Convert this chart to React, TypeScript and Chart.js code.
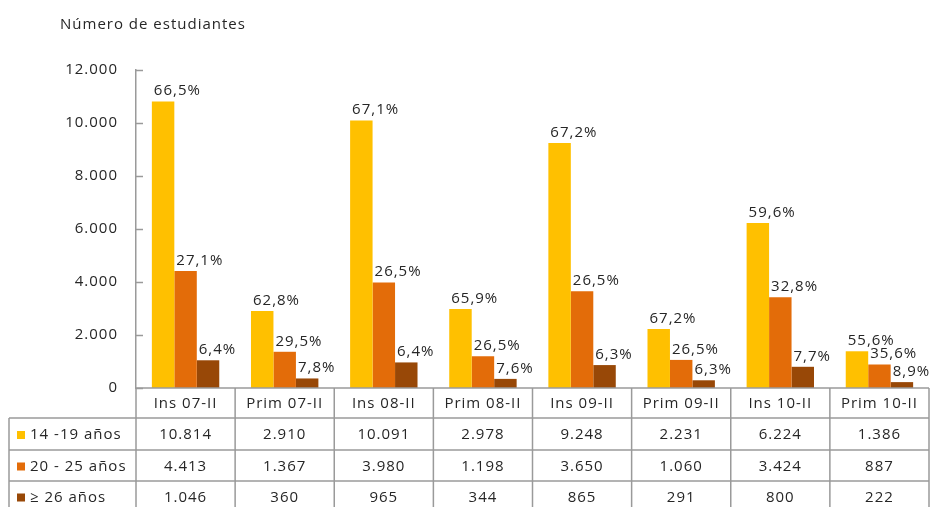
import React, { useEffect, useRef } from 'react';
import { Chart, registerables } from 'chart.js';

Chart.register(...registerables);

const categories = ['Ins 07-II', 'Prim 07-II', 'Ins 08-II', 'Prim 08-II', 'Ins 09-II', 'Prim 09-II', 'Ins 10-II', 'Prim 10-II'];
const seriesNames = ['14 -19 años', '20 - 25 años', '≥ 26 años'];
const age14to19 = [10814, 2910, 10091, 2978, 9248, 2231, 6224, 1386];
const age20to25 = [4413, 1367, 3980, 1198, 3650, 1060, 3424, 887];
const age26plus = [1046, 360, 965, 344, 865, 291, 800, 222];
const pct14to19 = ['66,5%', '62,8%', '67,1%', '65,9%', '67,2%', '67,2%', '59,6%', '55,6%'];
const pct20to25 = ['27,1%', '29,5%', '26,5%', '26,5%', '26,5%', '26,5%', '32,8%', '35,6%'];
const pct26plus = ['6,4%', '7,8%', '6,4%', '7,6%', '6,3%', '6,3%', '7,7%', '8,9%'];
const yTicks = [0, 2000, 4000, 6000, 8000, 10000, 12000];
const yTitle = 'Número de estudiantes';

const COLORS = ['#FFC000', '#E36C09', '#984807'];
const FONT = "'Open Sans', 'Noto Sans', sans-serif";
const TEXT = '#262626';
const LINE = '#9a9a9a';

const fmt = (v: number) => String(v).replace(/\B(?=(\d{3})+(?!\d))/g, '.');

const overlayPlugin = {
  id: 'overlay',
  beforeDraw(chart: any) {
    (chart.ctx as any).letterSpacing = '1px';
  },
  afterDraw(chart: any) {
    const ctx = chart.ctx as CanvasRenderingContext2D;
    const x = chart.scales.x;
    const y = chart.scales.y;
    const area = chart.chartArea;
    const n = categories.length;
    const colW = (area.right - area.left) / n;
    const base = y.getPixelForValue(0);
    const rowTops = [base, base + 30, base + 62, base + 93, base + 124];
    ctx.save();
    (ctx as any).letterSpacing = '1px';

    // title
    ctx.fillStyle = TEXT;
    ctx.font = `15px ${FONT}`;
    ctx.textAlign = 'left';
    ctx.textBaseline = 'middle';
    ctx.fillText(yTitle, 60, 25);

    // inward tick marks
    ctx.strokeStyle = LINE;
    ctx.lineWidth = 1.5;
    yTicks.forEach((t) => {
      const py = Math.round(y.getPixelForValue(t)) + 0.5;
      ctx.beginPath();
      ctx.moveTo(area.left, py);
      ctx.lineTo(area.left + 7, py);
      ctx.stroke();
    });

    // data labels
    const pcts = [pct14to19, pct20to25, pct26plus];
    ctx.font = `15px ${FONT}`;
    ctx.textAlign = 'left';
    ctx.textBaseline = 'bottom';
    ctx.fillStyle = TEXT;
    chart.data.datasets.forEach((ds: any, di: number) => {
      const meta = chart.getDatasetMeta(di);
      meta.data.forEach((el: any, i: number) => {
        ctx.fillText(pcts[di][i], el.x - el.width / 2 + 2, el.y - 3);
      });
    });

    // table lines
    ctx.strokeStyle = LINE;
    ctx.lineWidth = 1.5;
    const tableLeft = 9;
    const tableBottom = chart.height + 10;
    ctx.beginPath();
    ctx.moveTo(area.left, rowTops[0]);
    ctx.lineTo(area.right, rowTops[0]);
    for (let r = 1; r < 4; r++) {
      ctx.moveTo(tableLeft, rowTops[r]);
      ctx.lineTo(area.right, rowTops[r]);
    }
    for (let c = 0; c <= n; c++) {
      const cx = area.left + c * colW;
      ctx.moveTo(cx, rowTops[0]);
      ctx.lineTo(cx, tableBottom);
    }
    ctx.moveTo(tableLeft, rowTops[1]);
    ctx.lineTo(tableLeft, tableBottom);
    ctx.stroke();

    // header text
    ctx.font = `15px ${FONT}`;
    ctx.textAlign = 'center';
    ctx.textBaseline = 'middle';
    ctx.fillStyle = TEXT;
    categories.forEach((c, i) => {
      ctx.fillText(c, x.getPixelForValue(i), (rowTops[0] + rowTops[1]) / 2 + 1);
    });

    // rows
    const series = [age14to19, age20to25, age26plus];
    series.forEach((vals, r) => {
      const cy = (rowTops[r + 1] + rowTops[r + 2]) / 2 + 1;
      ctx.fillStyle = COLORS[r];
      ctx.fillRect(17, cy - 4, 8, 8);
      ctx.fillStyle = TEXT;
      ctx.textAlign = 'left';
      ctx.fillText(seriesNames[r], 30, cy);
      ctx.textAlign = 'center';
      vals.forEach((v, i) => {
        ctx.fillText(fmt(v), x.getPixelForValue(i), cy);
      });
    });
    ctx.restore();
  },
};

export default function App() {
  const ref = useRef<HTMLCanvasElement | null>(null);
  useEffect(() => {
    if (!ref.current) return;
    const chart = new Chart(ref.current, {
      type: 'bar',
      data: {
        labels: categories,
        datasets: [
          { label: seriesNames[0], data: age14to19, backgroundColor: COLORS[0] },
          { label: seriesNames[1], data: age20to25, backgroundColor: COLORS[1] },
          { label: seriesNames[2], data: age26plus, backgroundColor: COLORS[2] },
        ],
      },
      options: {
        responsive: false,
        animation: false,
        layout: { padding: { top: 70, bottom: 119, left: 0, right: 7 } },
        datasets: { bar: { categoryPercentage: 0.68, barPercentage: 1.0 } },
        plugins: { legend: { display: false }, tooltip: { enabled: false }, title: { display: false } },
        scales: {
          x: { display: false },
          y: {
            min: 0,
            max: 12000,
            afterFit: (s: any) => { s.width = 136; },
            afterBuildTicks: (s: any) => { s.ticks = yTicks.map((v) => ({ value: v })); },
            grid: { display: false, drawTicks: false },
            border: { display: true, color: LINE, width: 1.5 },
            ticks: {
              padding: 18,
              color: TEXT,
              font: { family: FONT, size: 15 },
              callback: (v: any) => fmt(Number(v)),
            },
          },
        },
      },
      plugins: [overlayPlugin],
    });
    return () => chart.destroy();
  }, []);
  return (
    <div style={{ position: 'absolute', left: 0, top: 0, width: 936, height: 507, background: '#fff' }}>
      <canvas ref={ref} width={936} height={507} />
    </div>
  );
}
